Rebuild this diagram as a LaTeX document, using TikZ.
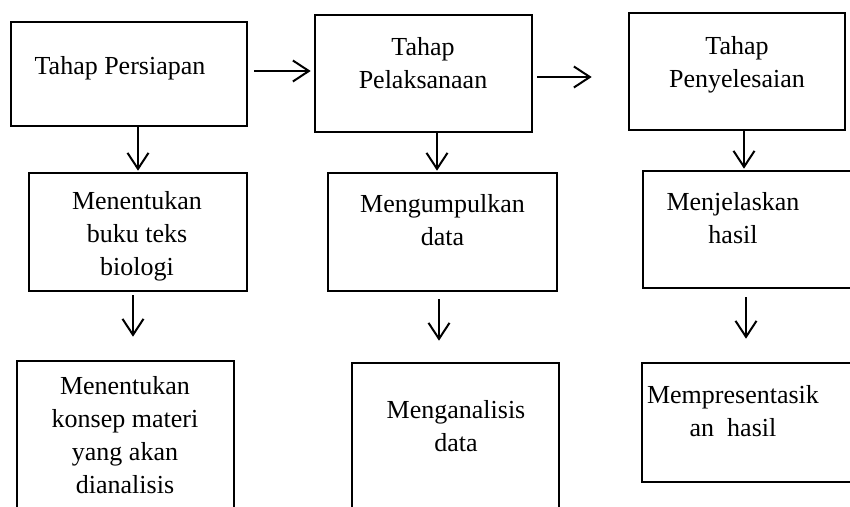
\documentclass[tikz,border=0pt]{standalone}
\usepackage{fontspec}
\setmainfont{Liberation Serif}
\usepackage{tikz}
\usetikzlibrary{arrows.meta, positioning, calc}

\begin{document}
\begin{tikzpicture}[x=0.5pt, y=-0.5pt,
  box/.style={draw, line width=1.3pt, inner sep=0pt},
  label/.style={font=\fontsize{13}{16.5}\selectfont, align=center, inner sep=0pt},
  arr/.style={line width=1pt, -{Straight Barb[length=8pt, width=10.5pt, line width=1pt]}}]
  \clip (0,0) rectangle (850,507);

  % Stages
  \node[box, minimum width=118pt, minimum height=52pt] (prep) at (129,74) {};
  \node[label] (prepText) at (120,68) {Tahap Persiapan};

  \node[box, minimum width=108.5pt, minimum height=58.5pt] (exec) at (423.5,73.5) {};
  \node[label] (execText) at (423,63) {Tahap\\Pelaksanaan};

  \node[box, minimum width=108pt, minimum height=58.5pt] (finish) at (737,71.5) {};
  \node[label] (finishText) at (737,64.5) {Tahap\\Penyelesaian};

  % Second row
  \node[box, minimum width=109pt, minimum height=59pt] (book) at (138,232) {};
  \node[label] (bookText) at (137,236) {Menentukan\\buku teks\\biologi};

  \node[box, minimum width=114.5pt, minimum height=59pt] (collect) at (442.5,232) {};
  \node[label] (collectText) at (442.5,220) {Mengumpulkan\\data};

  \node[box, minimum width=118.5pt, minimum height=58.5pt] (explain) at (761.5,229.5) {};
  \node[label] (explainText) at (733,218) {Menjelaskan\\hasil};

  % Third row
  \node[box, minimum width=108.5pt, minimum height=89.5pt] (concept) at (125.5,450.5) {};
  \node[label] (conceptText) at (125,435.5) {Menentukan\\konsep materi\\yang akan\\dianalisis};

  \node[box, minimum width=103.5pt, minimum height=88.5pt] (analyse) at (455.5,451.5) {};
  \node[label] (analyseText) at (456,426.5) {Menganalisis\\data};

  \node[box, minimum width=119pt, minimum height=59.5pt] (present) at (761,422.5) {};
  \node[label] (presentText) at (733,411) {Mempresentasik\\an\ \ hasil};

  % Arrows between stages
  \draw[arr, shorten <=3pt, shorten >=1.5pt] ([yshift=1.5pt]prep.east) -- ([yshift=1.5pt]prep.east -| exec.west);
  \draw[arr, shorten <=2pt, shorten >=18pt] ([yshift=-1.75pt]exec.east) -- ([yshift=-1.75pt]exec.east -| finish.west);

  % Arrows down
  \draw[arr, shorten >=0.5pt] (prep.south -| book.north) -- (book.north);
  \draw[arr, shorten >=0.5pt] ([xshift=-2.75pt]collect.north |- exec.south) -- ([xshift=-2.75pt]collect.north);
  \draw[arr, shorten >=0.5pt] ([xshift=3.5pt]finish.south) -- ([xshift=3.5pt]finish.south |- explain.north);

  \draw[arr, shorten <=1.5pt, shorten >=11.5pt] ([xshift=-2.5pt]book.south) -- ([xshift=-2.5pt]book.south |- concept.north);
  \draw[arr, shorten <=3.5pt, shorten >=10.5pt] ([xshift=-1.75pt]collect.south) -- ([xshift=-1.75pt]collect.south |- analyse.north);
  \draw[arr, shorten <=4pt, shorten >=11.5pt] ([xshift=-7.75pt]explain.south) -- ([xshift=-7.75pt]explain.south |- present.north);
\end{tikzpicture}
\end{document}
